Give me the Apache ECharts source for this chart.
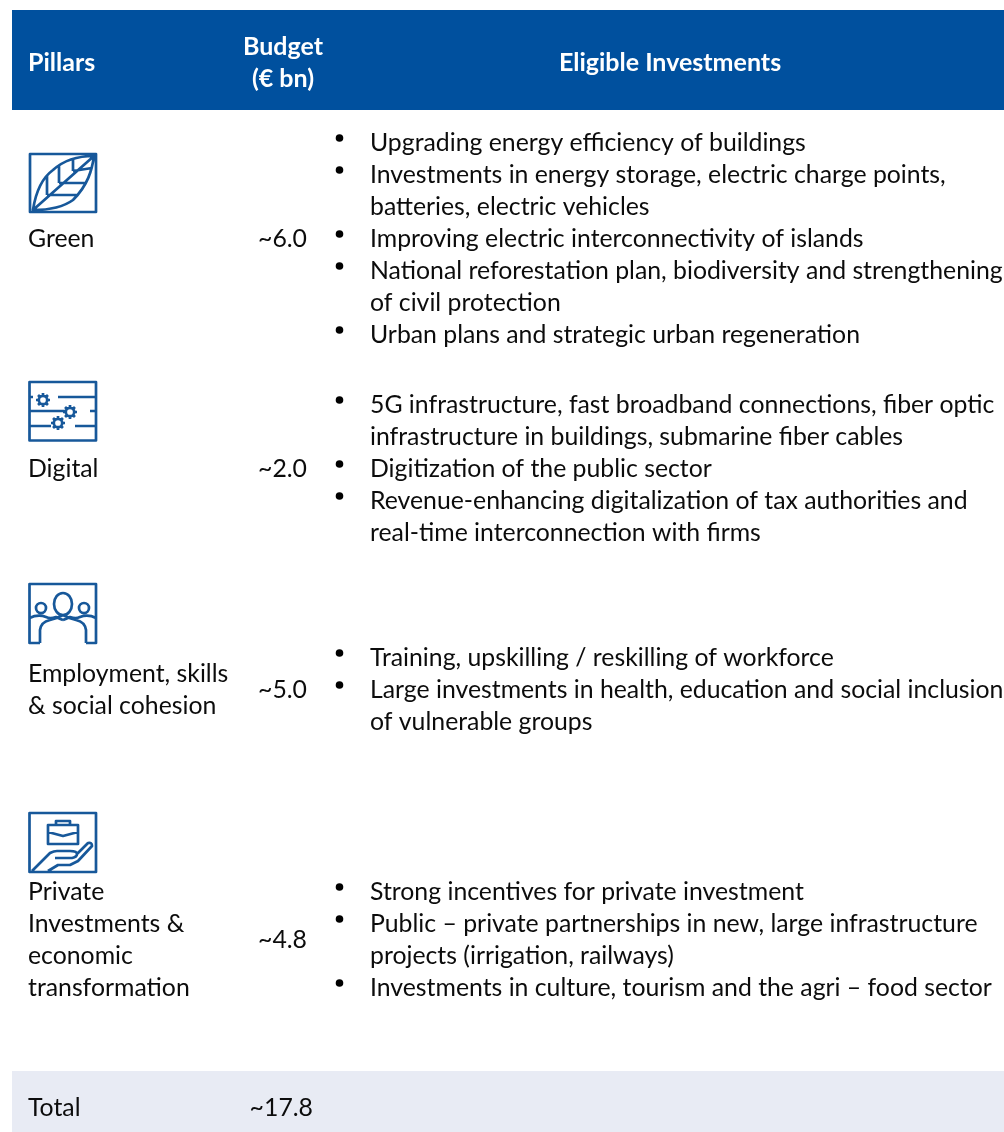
<!DOCTYPE html>
<html><head><meta charset="utf-8">
<style>html,body{margin:0;padding:0;background:#fff}#c{width:1004px;height:1132px}</style>
<script src="https://cdn.jsdelivr.net/npm/echarts@6/dist/echarts.min.js"></script>
</head><body><div id="c"></div>
<script>
const headers = ['Pillars', 'Budget\n(€ bn)', 'Eligible Investments'];
const pillars = [['Green'], ['Digital'], ['Employment, skills', '& social cohesion'], ['Private', 'Investments &', 'economic', 'transformation']];
const budgets = [6.0, 2.0, 5.0, 4.8];
const totalLabel = 'Total';
const totalBudget = 17.8;
const greenItems = [['Upgrading energy efficiency of buildings'], ['Investments in energy storage, electric charge points,', 'batteries, electric vehicles'], ['Improving electric interconnectivity of islands'], ['National reforestation plan, biodiversity and strengthening', 'of civil protection'], ['Urban plans and strategic urban regeneration']];
const digitalItems = [['5G infrastructure, fast broadband connections, fiber optic', 'infrastructure in buildings, submarine fiber cables'], ['Digitization of the public sector'], ['Revenue-enhancing digitalization of tax authorities and', 'real-time interconnection with firms']];
const socialItems = [['Training, upskilling / reskilling of workforce'], ['Large investments in health, education and social inclusion', 'of vulnerable groups']];
const privateItems = [['Strong incentives for private investment'], ['Public – private partnerships in new, large infrastructure', 'projects (irrigation, railways)'], ['Investments in culture, tourism and the agri – food sector']];

const FONT = 'Lato', SIZE = 24.8, HEAD = 25, BLUE = '#00509E', ICON = '#17589A';
const g = [];
const text = (t, x, y, o = {}) => g.push({type: 'text', x, y: y + 1, silent: true, style: {text: t, font: `${o.bold ? '700 ' : ''}${o.size || SIZE}px ${FONT}`, fill: o.fill || '#0c0c0c', textAlign: o.align || 'left', textVerticalAlign: 'middle'}});
const rect = (x, y, width, height, fill) => g.push({type: 'rect', silent: true, shape: {x, y, width, height}, style: {fill}});

rect(12, 10, 992, 100, BLUE);
rect(12, 1071, 992, 61, '#E8EBF4');
text(headers[0], 28, 62, {bold: 1, fill: '#fff', size: HEAD});
headers[1].split('\n').forEach((t, i) => text(t, 283, 46 + 32 * i, {bold: 1, fill: '#fff', size: HEAD, align: 'center'}));
text(headers[2], 670, 62, {bold: 1, fill: '#fff', size: HEAD, align: 'center'});

const groups = [greenItems, digitalItems, socialItems, privateItems];
const starts = [142, 404, 657, 891], pillarY = [238, 468, 673, 891], budgetY = [238, 468, 689, 939];
groups.forEach((items, k) => {
  let y = starts[k];
  items.forEach(lines => {
    g.push({type: 'circle', silent: true, shape: {cx: 339.5, cy: y - 4, r: 3.8}, style: {fill: '#000'}});
    lines.forEach(l => { text(l, 370, y); y += 32; });
  });
  pillars[k].forEach((l, i) => text(l, 28, pillarY[k] + 32 * i));
  text('~' + budgets[k].toFixed(1), 307, budgetY[k], {align: 'right'});
});
text(totalLabel, 28, 1107);
text('~' + totalBudget.toFixed(1), 313, 1107, {align: 'right'});

function gear(cx, cy, r) {
  let d = `M${cx - r} ${cy}A${r} ${r} 0 1 1 ${cx + r} ${cy}A${r} ${r} 0 1 1 ${cx - r} ${cy}Z`;
  for (let a = 0; a < 8; a++) { const c = Math.cos(a * Math.PI / 4), s = Math.sin(a * Math.PI / 4); d += `M${cx + c * r} ${cy + s * r}L${cx + c * (r + 2.8)} ${cy + s * (r + 2.8)}`; }
  return d;
}
const icons = [
  {box: [30, 154, 96, 212], d: 'M30 154H96V212H30Z M33 210C36 190 42 178 53 170C64 160 80 156 94 156C92 170 88 185 73 200C62 208 48 210 33 210Z M33 210L94 156 M47 175V195 M59 166V183 M73 159V171 M47 195L77 195 M59 183L85 183 M73 171L92 168'},
  {box: [29.5, 382, 96, 440.5], d: 'M29.5 382H96V440.5H29.5Z M29.5 397H33 M58 397H96 M29.5 411H65 M90 411H96 M29.5 426H51 M75 426H96 ' + gear(43, 400, 4.2) + gear(70, 412, 4.2) + gear(58, 423, 4.2)},
  {box: [29.5, 584, 96, 643], d: 'M40 643H29.5V584H96V643H86 M40 643V630Q41 622 50 620Q58 618 63 615Q68 618 76 620Q85 622 86 630V643 M29.5 618Q38 614 46 617Q50 619 56 617Q60 619 63 620M96 618Q88 614 80 617Q76 619 70 617Q66 619 63 620 M54 604A9 11 0 1 1 72 604A9 11 0 1 1 54 604Z M36 608A5 5 0 1 1 46 608A5 5 0 1 1 36 608Z M79 608A5 5 0 1 1 89 608A5 5 0 1 1 79 608Z'},
  {box: [29.5, 813, 96, 872], d: 'M29.5 813H96V872H29.5Z M48 825H78V844H48Z M56 825V821H70V825 M48 832L63 836L78 832 M32 871L50 853Q54 851 57 851H70Q77 851 77 854Q77 857 72 858H55 M77 854L88 843Q92 842 92 846L78 861L70 865Q62 865 58 865L48 871'}
];
const chart = echarts.init(document.getElementById('c'), null, {renderer: 'canvas'});
chart.setOption({
  animation: false,
  graphic: {elements: g},
  series: [{
    type: 'custom', coordinateSystem: 'none', silent: true, z: 10,
    data: icons.map((_, i) => [i]),
    renderItem(params) {
      const ic = icons[params.dataIndex], b = ic.box;
      return {type: 'path', shape: {pathData: ic.d, layout: 'cover', x: b[0], y: b[1], width: b[2] - b[0], height: b[3] - b[1]}, style: {fill: 'none', stroke: ICON, lineWidth: 2.7, lineJoin: 'round'}};
    }
  }]
});
</script></body></html>
